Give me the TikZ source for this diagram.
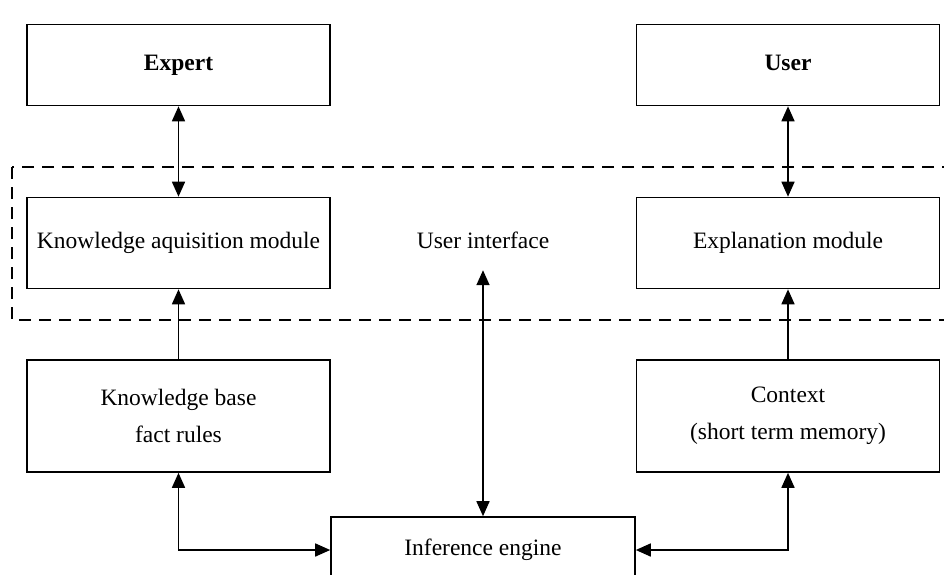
\documentclass[tikz,border=0pt]{standalone}
\usepackage{fontspec}
\setmainfont{Liberation Serif}
\usepackage{tikz}
\usetikzlibrary{arrows.meta}

\begin{document}
\begin{tikzpicture}[x=1pt,y=-1pt,
  font=\fontsize{23.5}{37}\selectfont,
  box/.style={draw, line width=1.6pt, minimum width=303pt, align=center},
  oneline/.style={text height=16pt, text depth=5pt},
  link/.style={line width=1.6pt, {Triangle[length=15pt,width=13pt]}-{Triangle[length=15pt,width=13pt]}},
  uplink/.style={line width=1.6pt, -{Triangle[length=15pt,width=13pt]}}]
\useasboundingbox (0,0) rectangle (944,574);
\clip (0,0) rectangle (944,574);

% dashed user interface frame
\draw[line width=1.6pt, dash pattern=on 12pt off 8pt] (12,167) rectangle (980,320);

% top row
\node[box, oneline, minimum height=81pt] (expert) at (178.5,65) {\textbf{Expert}};
\node[box, oneline, minimum height=81pt] (user) at (788,65) {\textbf{User}};

% middle row
\node[box, oneline, minimum height=91pt] (kam) at (178.5,243) {Knowledge aquisition module};
\node[oneline, minimum height=54pt] (ui) at (483,243) {User interface};
\node[box, oneline, minimum height=91pt] (expl) at (788,243) {Explanation module};

% lower row
\node[box, minimum height=112pt] (kb) at (178.5,416) {Knowledge base\\fact rules};
\node[box, minimum height=112pt] (ctx) at (788,416) {Context\\(short term memory)};

% inference engine, cut at the bottom
\node[box, oneline, minimum width=304pt, minimum height=66pt] (infer) at (483,550) {Inference engine};

% connectors
\draw[link] (expert.south) -- (kam.north);
\draw[link] (user.south) -- (expl.north);
\draw[uplink] (kb.north) -- (kam.south);
\draw[uplink] (ctx.north) -- (expl.south);
\draw[link] (ui.south) -- (infer.north);
\draw[link] (kb.south) |- (infer.west);
\draw[link] (ctx.south) |- (infer.east);
\end{tikzpicture}
\end{document}
